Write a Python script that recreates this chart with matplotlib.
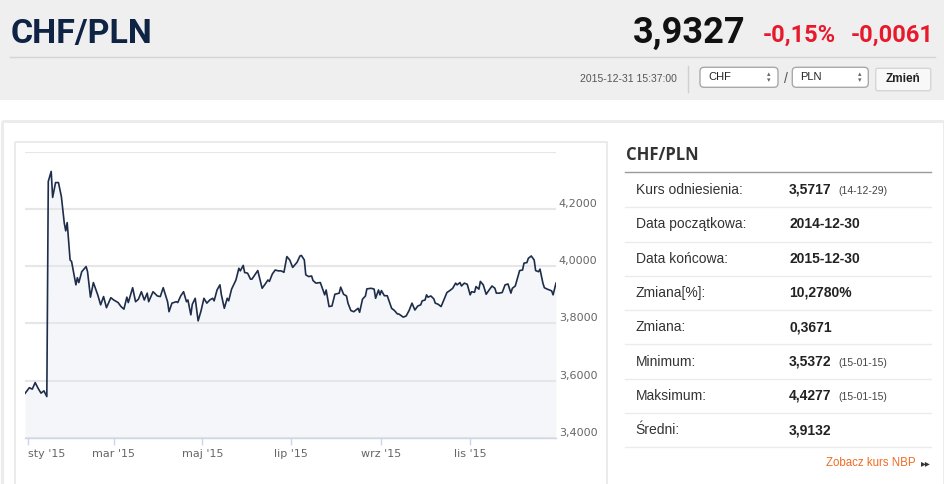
import numpy as np
import pandas as pd
import matplotlib
matplotlib.use("Agg")
import matplotlib.pyplot as plt
import matplotlib.dates as mdates
from matplotlib.patches import Rectangle, FancyBboxPatch

# CHF/PLN daily rate (days counted from 2015-01-01)
days = [-2, 1, 3, 5, 7, 9, 11, 13, 14, 16, 17, 19, 21, 23, 25, 26, 27, 29, 30, 33,
        34, 35, 37, 40, 41, 43, 45, 48, 50, 52, 54, 57, 59, 62, 64, 66, 68, 69, 72, 74,
        76, 78, 80, 82, 83, 86, 89, 91, 93, 96, 97, 99, 102, 103, 105, 107, 109, 110, 112, 113,
        115, 117, 119, 121, 123, 125, 127, 128, 130, 132, 133, 135, 137, 138, 140, 142, 143, 145, 146, 148,
        149, 151, 153, 154, 156, 158, 159, 161, 163, 165, 166, 168, 170, 172, 174, 176, 178, 180, 182, 185,
        187, 188, 190, 191, 193, 195, 196, 198, 201, 202, 204, 205, 207, 209, 211, 214, 215, 217, 219, 220,
        222, 224, 227, 228, 230, 232, 233, 236, 238, 239, 241, 242, 243, 245, 247, 248, 250, 252, 254, 255,
        258, 260, 262, 264, 266, 268, 270, 271, 273, 274, 275, 277, 279, 280, 282, 284, 285, 288, 290, 292,
        294, 295, 297, 298, 300, 302, 304, 305, 307, 308, 310, 311, 313, 315, 317, 319, 321, 322, 324, 326,
        328, 330, 332, 333, 335, 338, 340, 341, 343, 344, 346, 348, 349, 351, 352, 354, 355, 357, 360, 361,
        363]
rates = [3.555, 3.575, 3.570, 3.593, 3.573, 3.556, 3.564, 3.544, 4.297, 4.332, 4.241, 4.293, 4.293, 4.244, 4.151, 4.124, 4.153, 4.022, 4.017, 3.935,
         3.960, 3.943, 3.981, 3.999, 3.981, 3.892, 3.943, 3.900, 3.865, 3.894, 3.855, 3.890, 3.882, 3.873, 3.859, 3.850, 3.892, 3.873, 3.925, 3.876,
         3.885, 3.911, 3.882, 3.906, 3.876, 3.911, 3.896, 3.894, 3.925, 3.876, 3.841, 3.871, 3.876, 3.873, 3.896, 3.911, 3.876, 3.882, 3.830, 3.867,
         3.888, 3.809, 3.844, 3.888, 3.871, 3.882, 3.888, 3.879, 3.917, 3.935, 3.900, 3.853, 3.888, 3.879, 3.920, 3.941, 3.952, 3.993, 3.984, 4.003,
         3.978, 3.976, 3.955, 3.955, 3.970, 3.985, 3.964, 3.923, 3.937, 3.952, 3.947, 3.973, 3.987, 3.984, 3.984, 3.979, 4.034, 4.022, 3.996, 4.014,
         4.036, 4.038, 4.022, 3.970, 3.964, 3.966, 3.950, 3.941, 3.943, 3.929, 3.900, 3.917, 3.859, 3.861, 3.902, 3.906, 3.927, 3.902, 3.896, 3.871,
         3.845, 3.841, 3.853, 3.839, 3.885, 3.896, 3.921, 3.923, 3.920, 3.888, 3.917, 3.900, 3.915, 3.897, 3.897, 3.882, 3.853, 3.845, 3.833, 3.833,
         3.822, 3.826, 3.845, 3.871, 3.847, 3.861, 3.865, 3.879, 3.882, 3.900, 3.892, 3.896, 3.886, 3.871, 3.867, 3.859, 3.871, 3.908, 3.915, 3.923,
         3.941, 3.935, 3.943, 3.931, 3.941, 3.937, 3.900, 3.911, 3.909, 3.929, 3.920, 3.947, 3.935, 3.902, 3.917, 3.931, 3.923, 3.906, 3.906, 3.908,
         3.935, 3.938, 3.906, 3.923, 3.931, 3.985, 3.987, 4.011, 4.013, 4.028, 4.036, 4.022, 3.985, 3.981, 3.990, 3.941, 3.925, 3.920, 3.914, 3.900,
         3.941]

x_tick_dates = ["2015-01-01", "2015-03-01", "2015-05-01", "2015-07-01", "2015-09-01", "2015-11-01"]
x_tick_labels = ["sty '15", "mar '15", "maj '15", "lip '15", "wrz '15", "lis '15"]
y_ticks = [3.4, 3.6, 3.8, 4.0, 4.2, 4.4]
y_tick_labels = ["3,4000", "3,6000", "3,8000", "4,0000", "4,2000", ""]

# summary table on the right
row_names = ["Kurs odniesienia:", "Data początkowa:", "Data końcowa:", "Zmiana[%]:",
             "Zmiana:", "Minimum:", "Maksimum:", "Średni:"]
row_values = ["3,5717", "2014-12-30", "2015-12-30", "10,2780%", "0,3671",
              "3,5372", "4,4277", "3,9132"]
row_notes = ["(14-12-29)", "", "", "", "", "(15-01-15)", "(15-01-15)", ""]

pair = "CHF/PLN"
last_rate = "3,9327"
change_pct = "-0,15%"
change_abs = "-0,0061"
timestamp = "2015-12-31 15:37:00"

W, H = 945, 484
fig = plt.figure(figsize=(W / 100, H / 100), dpi=100)
fig.patch.set_facecolor("white")

# page layer in pixel coordinates
bg = fig.add_axes([0, 0, 1, 1], zorder=0)
bg.set_xlim(0, W)
bg.set_ylim(H, 0)
bg.axis("off")

# header band
bg.add_patch(Rectangle((0, 0), W, 99.5, color="#efefef", lw=0))
bg.plot([10, 935], [57.3, 57.3], color="#d4d4d4", lw=1)
bg.text(11, 42.7, pair, fontsize=24.5, fontweight="bold", color="#0f2344",
        family=["Roboto", "DejaVu Sans"], va="baseline")
bg.text(745, 43.3, last_rate, fontsize=26, fontweight="bold", color="#111111",
        family=["Roboto", "DejaVu Sans"], ha="right", va="baseline")
bg.text(762.7, 41.7, change_pct, fontsize=17, fontweight="bold", color="#e8192c",
        family=["Roboto", "DejaVu Sans"], ha="left", va="baseline")
bg.text(933.3, 41.7, change_abs, fontsize=17, fontweight="bold", color="#e8192c",
        family=["Roboto", "DejaVu Sans"], ha="right", va="baseline")

bg.text(677, 79, timestamp, fontsize=7.5, color="#555555",
        family=["Liberation Sans", "DejaVu Sans"], ha="right", va="center")
bg.plot([687.7, 687.7], [66, 92], color="#d0d0d0", lw=1)

for x0, w, cur in [(700, 78, "CHF"), (792.3, 76, "PLN")]:
    bg.add_patch(FancyBboxPatch((x0, 67.3), w, 20, boxstyle="round,pad=0,rounding_size=4",
                                fc="white", ec="#a9a9a9", lw=1))
    bg.text(x0 + 8, 77.5, cur, fontsize=8, color="#222222",
            family=["Liberation Sans", "DejaVu Sans"], va="center")
    bg.text(x0 + w - 9, 74.5, "▴", fontsize=5, color="#666666", ha="center", va="center")
    bg.text(x0 + w - 9, 80.5, "▾", fontsize=5, color="#666666", ha="center", va="center")
bg.text(785.5, 79, "/", fontsize=10, color="#555555", ha="center", va="center",
        family=["Liberation Sans", "DejaVu Sans"])
bg.add_patch(FancyBboxPatch((875.7, 68.3), 55, 22.4, boxstyle="round,pad=0,rounding_size=2",
                            fc="#f8f8f8", ec="#d5d5d5", lw=1))
bg.text(903.2, 79.5, "Zmień", fontsize=8.5, fontweight="bold", color="#222222",
        family=["Liberation Sans", "DejaVu Sans"], ha="center", va="center")

# content panel (3px border) and chart box
bg.add_patch(Rectangle((1.5, 121), W - 3, 400, fill=False, ec="#ececec", lw=2.2))
bg.add_patch(Rectangle((15, 141.5), 592, 400, fill=False, ec="#e8e8e8", lw=1.2))

# side table
bg.text(625.7, 155, pair, fontsize=12, fontweight="bold", color="#333333",
        family=["Open Sans", "DejaVu Sans"], va="center")
bg.plot([625, 930.7], [171.7, 171.7], color="#9a9a9a", lw=1)
for i, (name, val, note) in enumerate(zip(row_names, row_values, row_notes)):
    yc = 190 + i * 34.3
    bg.text(635.7, yc, name, fontsize=10, color="#333333",
            family=["Liberation Sans", "DejaVu Sans"], va="center")
    bg.text(789, yc, val, fontsize=10, fontweight="bold", color="#222222",
            family=["Liberation Sans", "DejaVu Sans"], va="center")
    if note:
        bg.text(838.7, yc + 1, note, fontsize=7.5, color="#444444",
                family=["Liberation Sans", "DejaVu Sans"], va="center")
    bg.plot([625, 930.7], [yc + 17.2, yc + 17.2], color="#ebebeb", lw=1)
bg.text(916, 463.3, "Zobacz kurs NBP", fontsize=8.3, color="#f26b22",
        family=["Liberation Sans", "DejaVu Sans"], ha="right", va="center")
bg.text(925.5, 463.5, "▸▸", fontsize=7, color="#333333", ha="center", va="center")

# the chart itself
left, right, top, bottom = 25, 556, 152, 437.7
ax = fig.add_axes([left / W, 1 - bottom / H, (right - left) / W, (bottom - top) / H], zorder=1)
ax.set_facecolor("white")

dates = pd.Timestamp("2015-01-01") + pd.to_timedelta(days, unit="D")
ax.fill_between(dates, rates, 3.4, color="#f4f6f9", lw=0, zorder=0.2)
ax.plot(dates, rates, color="#1e2d4a", lw=1.2, zorder=2)

ax.set_xlim(pd.Timestamp("2014-12-30"), pd.Timestamp("2015-12-30"))
ax.set_ylim(3.4, 4.4)

ax.set_axisbelow(True)
ax.set_yticks(y_ticks)
ax.set_yticklabels(y_tick_labels, va="bottom")
ax.yaxis.tick_right()
ax.tick_params(axis="y", length=0, pad=2, labelsize=8, labelcolor="#666666")
ax.grid(axis="y", color="#e6e6e6", lw=1.5)

ax.set_xticks(pd.to_datetime(x_tick_dates))
ax.set_xticklabels(x_tick_labels)
ax.tick_params(axis="x", length=5, width=1, color="#ccd6eb", pad=3,
               labelsize=8, labelcolor="#666666")
ax.get_xticklabels()[0].set_ha("left")

for s in ["top", "left", "right"]:
    ax.spines[s].set_visible(False)
ax.spines["bottom"].set_color("#ccd6eb")
ax.spines["bottom"].set_linewidth(1)

fig.savefig("out.png", dpi=100, facecolor="white")
